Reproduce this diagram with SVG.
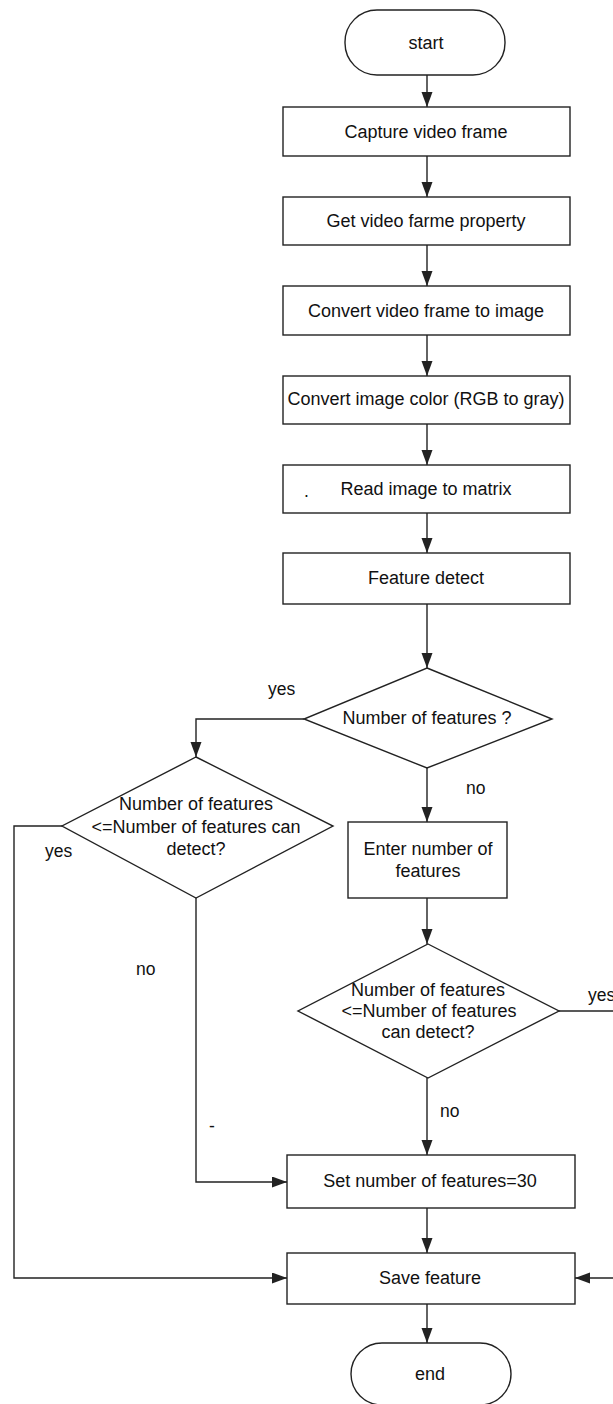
<svg xmlns="http://www.w3.org/2000/svg" width="613" height="1404" viewBox="0 0 613 1404">
  <style>
    .shape { fill: #ffffff; stroke: #222222; stroke-width: 1.4; }
    .link { fill: none; stroke: #222222; stroke-width: 1.4; }
    .lbl { font-family: "Liberation Sans", Arial, sans-serif; font-size: 18px; fill: #111111; text-anchor: middle; }
    .note { font-family: "Liberation Sans", Arial, sans-serif; font-size: 17.5px; fill: #111111; text-anchor: start; }
  </style>
  <defs>
    <marker id="arrow" markerUnits="userSpaceOnUse" markerWidth="16" markerHeight="12" refX="15" refY="5.5" orient="auto">
      <path d="M0,0 L15,5.5 L0,11 z" fill="#222222"/>
    </marker>
  </defs>
  <rect width="613" height="1404" fill="#ffffff"/>

  <!-- connectors -->
  <g id="connectors">
    <line class="link" x1="427" y1="75" x2="427" y2="107" marker-end="url(#arrow)"/>
    <line class="link" x1="427" y1="156" x2="427" y2="197" marker-end="url(#arrow)"/>
    <line class="link" x1="427" y1="245" x2="427" y2="286" marker-end="url(#arrow)"/>
    <line class="link" x1="427" y1="335" x2="427" y2="376" marker-end="url(#arrow)"/>
    <line class="link" x1="427" y1="424" x2="427" y2="465" marker-end="url(#arrow)"/>
    <line class="link" x1="427" y1="513" x2="427" y2="553" marker-end="url(#arrow)"/>
    <line class="link" x1="427" y1="604" x2="427" y2="668" marker-end="url(#arrow)"/>
    <polyline class="link" points="304,719 196,719 196,757" marker-end="url(#arrow)"/>
    <line class="link" x1="427" y1="768" x2="427" y2="822" marker-end="url(#arrow)"/>
    <line class="link" x1="427" y1="898" x2="427" y2="944" marker-end="url(#arrow)"/>
    <line class="link" x1="559" y1="1011" x2="613" y2="1011"/>
    <line class="link" x1="613" y1="1278" x2="575" y2="1278" marker-end="url(#arrow)"/>
    <line class="link" x1="427" y1="1078" x2="427" y2="1155" marker-end="url(#arrow)"/>
    <polyline class="link" points="62,826 14,826 14,1278 287,1278" marker-end="url(#arrow)"/>
    <polyline class="link" points="196,898 196,1182 287,1182" marker-end="url(#arrow)"/>
    <line class="link" x1="427" y1="1208" x2="427" y2="1253" marker-end="url(#arrow)"/>
    <line class="link" x1="427" y1="1304" x2="427" y2="1343" marker-end="url(#arrow)"/>

    <text class="note" x="268" y="695">yes</text>
    <text class="note" x="466" y="794">no</text>
    <text class="note" x="45" y="857">yes</text>
    <text class="note" x="136" y="975">no</text>
    <text class="note" x="588" y="1001">yes</text>
    <text class="note" x="440" y="1117">no</text>
    <text class="note" x="209" y="1132" font-size="9">-</text>
  </g>

  <g id="start">
    <rect class="shape" x="345" y="10" width="160" height="65" rx="32" ry="32"/>
    <text class="lbl" x="426" y="49">start</text>
  </g>
  <g id="capture">
    <rect class="shape" x="283" y="107" width="287" height="49"/>
    <text class="lbl" x="426" y="138">Capture video frame</text>
  </g>
  <g id="property">
    <rect class="shape" x="283" y="197" width="287" height="48"/>
    <text class="lbl" x="426" y="227">Get video farme property</text>
  </g>
  <g id="to-image">
    <rect class="shape" x="283" y="286" width="287" height="49"/>
    <text class="lbl" x="426" y="317">Convert video frame to image</text>
  </g>
  <g id="to-gray">
    <rect class="shape" x="283" y="376" width="287" height="48"/>
    <text class="lbl" x="426" y="405">Convert image color (RGB to gray)</text>
  </g>
  <g id="to-matrix">
    <rect class="shape" x="283" y="465" width="287" height="48"/>
    <text class="note" x="304" y="497" font-size="12">.</text>
    <text class="lbl" x="426" y="495">Read image to matrix</text>
  </g>
  <g id="detect">
    <rect class="shape" x="283" y="553" width="287" height="51"/>
    <text class="lbl" x="426" y="584">Feature detect</text>
  </g>
  <g id="has-count">
    <polygon class="shape" points="427,668 552,719 427,768 304,719"/>
    <text class="lbl" x="427" y="724">Number of features ?</text>
  </g>
  <g id="check-left">
    <polygon class="shape" points="196,757 333,826 196,898 62,826"/>
    <text class="lbl" x="196" y="810">Number of features</text>
    <text class="lbl" x="196" y="833">&lt;=Number of features can</text>
    <text class="lbl" x="196" y="855">detect?</text>
  </g>
  <g id="enter-count">
    <rect class="shape" x="348" y="822" width="159" height="76"/>
    <text class="lbl" x="428" y="855">Enter number of</text>
    <text class="lbl" x="428" y="877">features</text>
  </g>
  <g id="check-right">
    <polygon class="shape" points="428,944 559,1011 428,1078 298,1011"/>
    <text class="lbl" x="428" y="996">Number of features</text>
    <text class="lbl" x="429" y="1017">&lt;=Number of features</text>
    <text class="lbl" x="428" y="1038">can detect?</text>
  </g>
  <g id="default-count">
    <rect class="shape" x="287" y="1155" width="288" height="53"/>
    <text class="lbl" x="430" y="1187">Set number of features=30</text>
  </g>
  <g id="save">
    <rect class="shape" x="287" y="1253" width="288" height="51"/>
    <text class="lbl" x="430" y="1284">Save feature</text>
  </g>
  <g id="end">
    <rect class="shape" x="351" y="1343" width="160" height="62" rx="31" ry="31"/>
    <text class="lbl" x="430" y="1380">end</text>
  </g>
</svg>
